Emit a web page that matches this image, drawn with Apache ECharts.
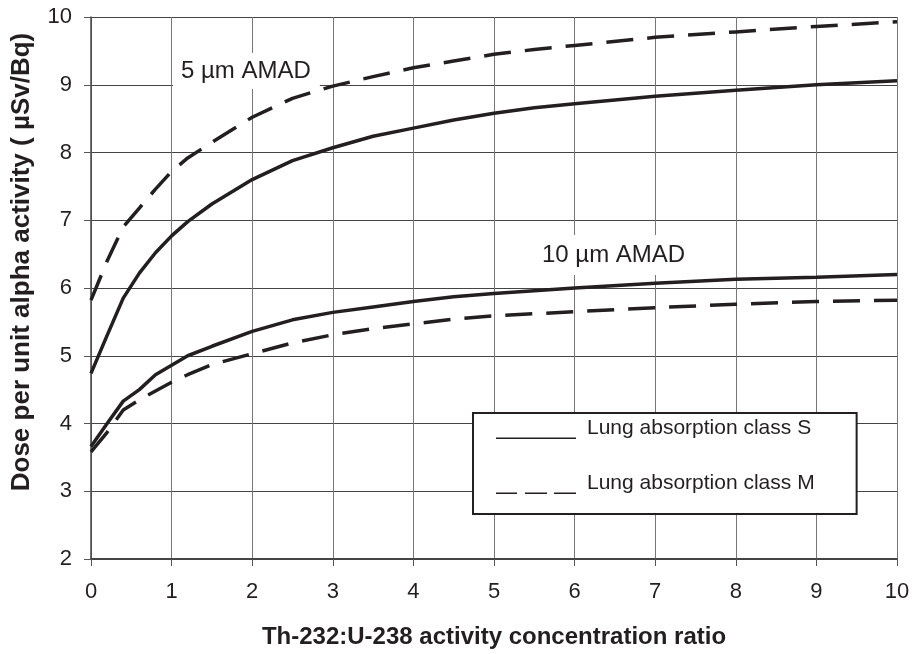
<!DOCTYPE html>
<html>
<head>
<meta charset="utf-8">
<script src="https://cdn.jsdelivr.net/npm/echarts@6/dist/echarts.min.js"></script>
<style>
  html, body { margin: 0; padding: 0; background: #fff; }
  #chart { width: 918px; height: 654px; }
</style>
</head>
<body>
<div id="chart"></div>
<script>
// Th-232:U-238 ratio (x) and dose values
const ratios = [0, 0.2, 0.4, 0.6, 0.8, 1, 1.2, 1.5, 2, 2.5, 3, 3.5, 4, 4.5, 5, 5.5, 6, 7, 8, 9, 10];
const dose5umS = [4.74, 5.3, 5.85, 6.22, 6.52, 6.77, 6.98, 7.24, 7.6, 7.88, 8.07, 8.24, 8.36, 8.48, 8.58, 8.66, 8.72, 8.83, 8.92, 9.0, 9.06];
const dose5umM = [5.82, 6.4, 6.9, 7.18, 7.46, 7.72, 7.92, 8.15, 8.52, 8.8, 8.98, 9.12, 9.25, 9.35, 9.45, 9.52, 9.58, 9.7, 9.78, 9.86, 9.93];
const dose10umS = [3.66, 4.0, 4.33, 4.5, 4.72, 4.86, 5.0, 5.14, 5.36, 5.53, 5.64, 5.72, 5.8, 5.87, 5.92, 5.96, 6.0, 6.07, 6.13, 6.16, 6.2];
const dose10umM = [3.58, 3.87, 4.2, 4.35, 4.48, 4.61, 4.72, 4.87, 5.03, 5.19, 5.31, 5.4, 5.47, 5.54, 5.59, 5.62, 5.65, 5.71, 5.76, 5.8, 5.82];
const legendLabels = ["Lung absorption class S", "Lung absorption class M"];
const curveLabels = ["5 µm AMAD", "10 µm AMAD"];
const xTitle = "Th-232:U-238 activity concentration ratio";
const yTitle = "Dose per unit alpha activity ( µSv/Bq)";

const ink = "#231f20";
const font = "Arial, 'Liberation Sans', sans-serif";

const pairs = (ys) => ratios.map((x, i) => [x, ys[i]]);

const solid = {width: 3.5, color: ink, type: "solid"};
const dashed = {width: 3.5, color: ink, type: [27, 14]};

const makeSeries = (name, ys, lineStyle) => ({
  name: name,
  type: "line",
  data: pairs(ys),
  showSymbol: false,
  symbol: "none",
  smooth: false,
  z: 3,
  itemStyle: {color: ink},
  lineStyle: lineStyle
});

const chart = echarts.init(document.getElementById("chart"));

const option = {
  animation: false,
  backgroundColor: "#fff",
  grid: {left: 91, right: 21, top: 17, bottom: 93},
  xAxis: {
    type: "value",
    min: 0,
    max: 10,
    interval: 1,
    name: xTitle,
    nameLocation: "middle",
    nameGap: 66,
    nameTextStyle: {fontFamily: font, fontSize: 24, fontWeight: "bold", color: ink},
    axisLine: {show: true, lineStyle: {color: "#444", width: 2}},
    axisTick: {show: true, length: 7, lineStyle: {color: "#555"}},
    axisLabel: {fontFamily: font, fontSize: 22, color: ink, margin: 22},
    splitLine: {show: true, lineStyle: {color: "#777", width: 1}}
  },
  yAxis: {
    type: "value",
    min: 2,
    max: 10,
    interval: 1,
    axisLine: {show: true, lineStyle: {color: "#444", width: 1.5}},
    axisTick: {show: true, length: 7, lineStyle: {color: "#555"}},
    axisLabel: {fontFamily: font, fontSize: 22, color: ink, margin: 19},
    splitLine: {show: true, lineStyle: {color: "#444", width: 1}}
  },
  legend: {
    orient: "vertical",
    left: 473,
    top: 413,
    padding: [4, 42, 20, 23],
    itemGap: 33,
    itemWidth: 86,
    itemHeight: 22,
    backgroundColor: "#fff",
    borderColor: ink,
    borderWidth: 2,
    borderRadius: 0,
    itemStyle: {borderWidth: 0},
    textStyle: {fontFamily: font, fontSize: 21, color: ink},
    data: [
      {name: legendLabels[0], icon: "path://M0,0h0.01v0.01h-0.01zM86,0h0.01v0.01h-0.01zM0,20.4h80v1.6h-80z"},
      {name: legendLabels[1], icon: "path://M0,0h0.01v0.01h-0.01zM86,0h0.01v0.01h-0.01zM0,20.4h21v1.6h-21zM29,20.4h22v1.6h-22zM58,20.4h22v1.6h-22z"}
    ]
  },
  graphic: [
    {
      type: "text",
      z: 1,
      x: 173,
      y: 71,
      style: {
        text: curveLabels[0],
        font: "24px " + font,
        fill: ink,
        textAlign: "left",
        textVerticalAlign: "middle",
        backgroundColor: "#fff",
        padding: [6, 9, 6, 8]
      }
    },
    {
      type: "text",
      z: 1,
      x: 534,
      y: 255,
      style: {
        text: curveLabels[1],
        font: "24px " + font,
        fill: ink,
        textAlign: "left",
        textVerticalAlign: "middle",
        backgroundColor: "#fff",
        padding: [8, 8, 8, 8]
      }
    },
    {
      type: "text",
      x: 22,
      y: 262,
      rotation: Math.PI / 2,
      style: {
        text: yTitle,
        font: "bold 26px " + font,
        fill: ink,
        textAlign: "center",
        textVerticalAlign: "middle"
      }
    }
  ],
  series: [
    makeSeries(legendLabels[0], dose5umS, solid),
    makeSeries(legendLabels[1], dose5umM, dashed),
    makeSeries(legendLabels[0], dose10umS, solid),
    makeSeries(legendLabels[1], dose10umM, dashed)
  ]
};

chart.setOption(option);
</script>
</body>
</html>
